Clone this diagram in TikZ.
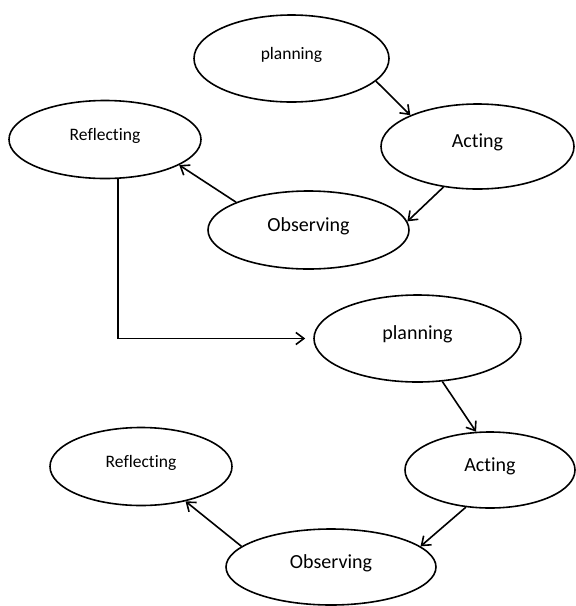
\documentclass[tikz,border=0pt]{standalone}
\usepackage{fontspec}
\setmainfont{Carlito}[Ligatures=CommonOff]
\usetikzlibrary{arrows.meta,shapes.geometric}
\tikzset{stage/.style={draw,ellipse,line width=1.6pt,inner sep=0pt,text depth=11pt},
  big/.style={font=\fontsize{20}{24}\selectfont},
  small/.style={font=\fontsize{17.5}{21}\selectfont},
  arr/.style={-{Straight Barb[length=8pt,width=12pt]},line width=1.6pt}}

\begin{document}
\begin{tikzpicture}[x=1pt,y=-1pt]
\useasboundingbox (0,0) rectangle (576,606);
% first cycle
\node[stage,small,minimum width=195pt,minimum height=87pt] (plan1) at (291.5,58.5) {planning};
\node[stage,big,minimum width=193pt,minimum height=85pt] (act1) at (477.5,146.5) {Acting};
\node[stage,small,minimum width=192pt,minimum height=78pt] (refl1) at (105,139.5) {Reflecting};
\node[stage,big,minimum width=201pt,minimum height=78pt] (obs1) at (308.5,230) {Observing};
% second cycle
\node[stage,big,minimum width=207pt,minimum height=87pt] (plan2) at (417.5,338.5) {planning};
\node[stage,big,minimum width=170pt,minimum height=76pt] (act2) at (490,470) {Acting};
\node[stage,small,minimum width=182pt,minimum height=78pt] (refl2) at (141,466.5) {Reflecting};
\node[stage,big,minimum width=210pt,minimum height=76pt] (obs2) at (331,567) {Observing};
\draw[arr] (plan1.-15) -- (act1.155);
\draw[arr] (act1.-130) -- (obs1.5);
\draw[arr] (obs1.159) -- (refl1.-19);
\draw[arr,shorten >=8pt] (refl1.-72) |- (plan2.west);
\draw[arr] (plan2.-60) -- (act2.110);
\draw[arr] (act2.-123) -- (obs2.13);
\draw[arr] (obs2.167) -- (refl2.-38);
\end{tikzpicture}
\end{document}
